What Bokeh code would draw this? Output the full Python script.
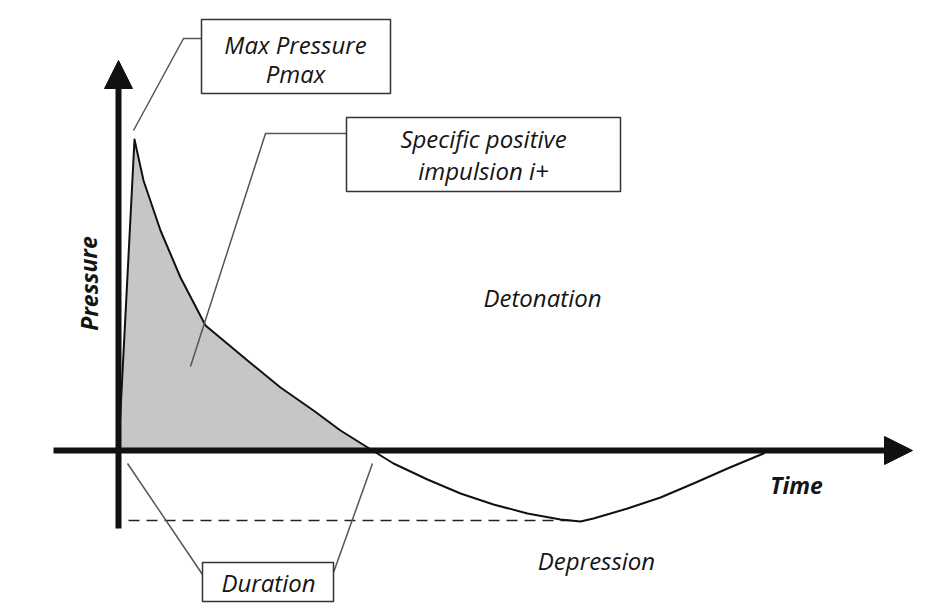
from bokeh.plotting import figure
from bokeh.models import Arrow, NormalHead, Range1d
from bokeh.core.properties import value
from bokeh.embed import file_html
from bokeh.resources import INLINE

# ---- data (arbitrary time / pressure units, origin at axes crossing) ----
time_pos = [0, 16, 25, 42, 62, 87, 129, 162, 195, 222, 254]
pres_pos = [0, 311, 270, 220, 173, 125, 90, 63, 40, 20, 0]

time_neg = [254, 275, 309, 342, 375, 409, 442, 462, 475, 509, 542, 575, 609, 645, 648]
pres_neg = [0, -13, -29, -43, -54, -63, -69, -71, -68, -58, -47, -33, -18, -3, 0]

p_min = -70
t_min = 460

axis_x = [-65, 794]   # time axis extent
axis_y = [-78, 390]   # pressure axis extent

FONT = value("Open Sans")

p = figure(width=924, height=605, output_backend="svg", toolbar_location=None,
           x_range=Range1d(-118, 806), y_range=Range1d(-155, 450),
           min_border=0, x_axis_type=None, y_axis_type=None)
p.outline_line_color = None
p.grid.visible = False

# shaded positive impulse
p.varea(x=time_pos, y1=[0] * len(time_pos), y2=pres_pos, fill_color="#c6c6c8")

# dashed depression level
p.line([10, t_min], [p_min, p_min], line_color="#222222", line_width=1.5, line_dash="11 7")

# pressure curve
p.line(time_pos, pres_pos, line_color="#111111", line_width=2, line_join="round")
p.line(time_neg, pres_neg, line_color="#111111", line_width=2, line_join="round")

# axes with arrow heads
head = 28
p.segment(x0=[axis_x[0]], y0=[0], x1=[axis_x[1] - head + 2], y1=[0], line_color="#111111", line_width=6)
p.segment(x0=[0], y0=[axis_y[0]], x1=[0], y1=[axis_y[1] - head + 2], line_color="#111111", line_width=6)
p.add_layout(Arrow(end=NormalHead(size=head, fill_color="#111111", line_color="#111111", line_width=1),
                   x_start=axis_x[1] - head, y_start=0, x_end=axis_x[1], y_end=0,
                   line_width=1, line_color="#111111"))
p.add_layout(Arrow(end=NormalHead(size=head, fill_color="#111111", line_color="#111111", line_width=1),
                   x_start=0, y_start=axis_y[1] - head, x_end=0, y_end=axis_y[1],
                   line_width=1, line_color="#111111"))

# leader lines
lead = dict(line_color="#555555", line_width=1.5)
p.line([15, 65, 83], [320, 412, 412], **lead)
p.line([72, 147, 228], [84, 317, 317], **lead)
p.line([9, 84], [-13, -124], **lead)
p.line([254, 215], [-13, -122], **lead)

# boxes
box = dict(fill_color="white", line_color="#333333", line_width=1.5)
p.quad(left=[83], right=[272], bottom=[357], top=[431], **box)
p.quad(left=[228], right=[502], bottom=[259], top=[333], **box)
p.quad(left=[84], right=[215], bottom=[-151], top=[-112], **box)

txt = dict(text_font=FONT, text_font_style="italic", text_font_size="24px",
           text_color="#151515", text_align="center", text_baseline="middle")
box_lines = ["Max Pressure", "Pmax", "Specific positive", "impulsion i+", "Duration"]
box_x = [177, 177, 365, 365, 150]
box_y = [406, 377, 312, 280, -132]
p.text(x=box_x, y=box_y, text=box_lines, **txt)

p.text(x=[424], y=[153], text=["Detonation"], **txt)
p.text(x=[478], y=[-110], text=["Depression"], **txt)

bold = dict(txt, text_font_style="bold italic", text_font_size="23px")
p.text(x=[678], y=[-34], text=["Time"], **bold)
p.text(x=[-30], y=[167], text=["Pressure"], angle=1.5708, **bold)

open("out.html", "w").write(file_html(p, INLINE))
